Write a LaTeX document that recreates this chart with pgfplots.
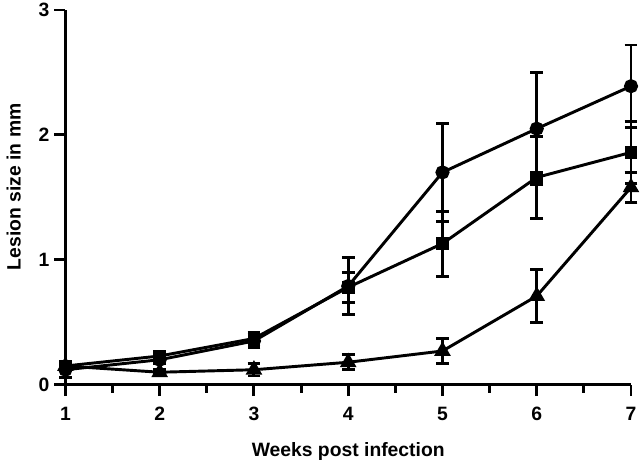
\documentclass[border=0pt]{standalone}
\usepackage{pgfplots}
\pgfplotsset{compat=1.18}
\usepackage{fontspec}
\setmainfont{Liberation Sans}
\begin{document}
\begin{tikzpicture}
\begin{axis}[
  scale only axis,
  width=424.5pt, height=281.25pt,
  xmin=1, xmax=7, ymin=0, ymax=3,
  axis lines=left,
  axis line style={line width=2.2pt, -},
  xtick={1,2,3,4,5,6,7},
  minor xtick={1.5,2.5,3.5,4.5,5.5,6.5},
  ytick={0,1,2,3},
  tick style={line width=2.2pt, black},
  tick align=outside,
  major tick length=8.5pt,
  minor tick length=6pt,
  tick label style={font=\fontsize{14.5}{17}\selectfont\bfseries},
  xticklabel style={yshift=-5pt},
  /pgf/number format/assume math mode=true,
  xlabel={Weeks post infection},
  ylabel={Lesion size in mm},
  every axis x label/.style={at={([yshift=-53.8pt]axis description cs:0.5,0)}, anchor=base, font=\fontsize{14.5}{17}\selectfont\bfseries},
  every axis y label/.style={at={([xshift=-33.6pt,yshift=7.9pt]axis description cs:0,0.5)}, anchor=base, rotate=90, font=\fontsize{14.5}{17}\selectfont\bfseries},
  clip=false,
  every error bar/.append style={line width=2.2pt, black},
  errstyle/.style={line width=2.2pt, black,
    error bars/y dir=both, error bars/y explicit,
    error bars/error bar style={line width=2.2pt, black, solid},
    error bars/error mark options={rotate=90, mark size=4.75pt, line width=2.2pt, black}},
]
\addplot[errstyle, mark=*, mark size=4.2pt, mark options={solid, fill=black}] table[x=x, y=y, y error=e] {
x y e
1 0.12 0.06
2 0.20 0.03
3 0.35 0.05
4 0.79 0.23
5 1.70 0.39
6 2.05 0.45
7 2.39 0.33
};
\addplot[errstyle, mark=square*, mark size=3.7pt, mark options={solid, fill=black}] table[x=x, y=y, y error=e] {
x y e
1 0.15 0.03
2 0.23 0.04
3 0.37 0.05
4 0.78 0.12
5 1.13 0.26
6 1.66 0.33
7 1.86 0.25
};
\addplot[errstyle, mark=triangle*, mark size=5pt, mark options={solid, fill=black}] table[x=x, y=y, y error=e] {
x y e
1 0.15 0.03
2 0.10 0.02
3 0.12 0.05
4 0.18 0.06
5 0.27 0.10
6 0.71 0.21
7 1.58 0.12
};
\coordinate (bl) at (axis cs:1,0);
\coordinate (tr) at (axis cs:7,3);
\end{axis}
\pgfresetboundingbox
\path[use as bounding box] ([shift={(-49.1pt,-57.75pt)}]bl) rectangle ([shift={(6.75pt,7.5pt)}]tr);
\end{tikzpicture}
\end{document}
